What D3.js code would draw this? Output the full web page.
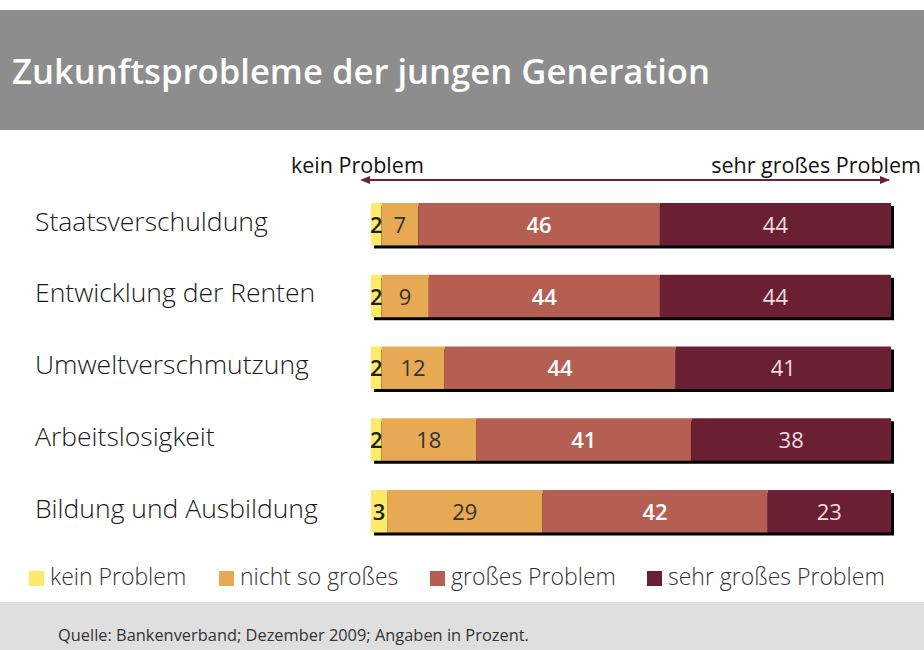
<!DOCTYPE html>
<html>
<head>
<meta charset="utf-8">
<script src="https://cdn.jsdelivr.net/npm/d3@7"></script>
<style>
  body { margin: 0; background: #fff; }
  svg { display: block; font-family: "Open Sans", sans-serif; }
</style>
</head>
<body>
<script>
// data
var categories = ["Staatsverschuldung", "Entwicklung der Renten", "Umweltverschmutzung", "Arbeitslosigkeit", "Bildung und Ausbildung"];
var keys = ["kein Problem", "nicht so großes", "großes Problem", "sehr großes Problem"];
var keinProblem = [2, 2, 2, 2, 3];
var nichtSoGross = [7, 9, 12, 18, 29];
var grossesProblem = [46, 44, 44, 41, 42];
var sehrGross = [44, 44, 41, 38, 23];
var colors = ["#fde96a", "#e7a953", "#b55f52", "#6a2032"];
var labelColors = ["#222", "#333", "#fff", "#eadde0"];
var labelWeights = [600, 500, 600, 400];

var series = [keinProblem, nichtSoGross, grossesProblem, sehrGross];
var data = categories.map(function(c, i) {
  var row = {category: c};
  keys.forEach(function(k, j) { row[k] = series[j][i]; });
  return row;
});

var width = 924, height = 650;

var svg = d3.select("body").append("svg")
    .attr("width", width)
    .attr("height", height);

// title band
svg.append("rect")
    .attr("x", 0).attr("y", 10)
    .attr("width", width).attr("height", 120)
    .attr("fill", "#8c8d8c");

svg.append("text")
    .attr("x", 12).attr("y", 84)
    .attr("fill", "#fff")
    .style("font-size", "34px")
    .style("font-weight", 600)
    .attr("textLength", 698)
    .attr("lengthAdjust", "spacingAndGlyphs")
    .text("Zukunftsprobleme der jungen Generation");

// scales
var x = d3.scaleLinear().domain([0, 1]).range([371, 891]);
var y = d3.scaleBand().domain(categories).range([203, 532.5])
    .paddingInner(0.408).paddingOuter(0);

var stack = d3.stack().keys(keys).offset(d3.stackOffsetExpand);
var stacked = stack(data);

// header arrow
var defs = svg.append("defs");
["start", "end"].forEach(function(id) {
  defs.append("marker")
      .attr("id", "arrow-" + id)
      .attr("viewBox", "0 0 10 10")
      .attr("refX", id == "end" ? 9 : 1).attr("refY", 5)
      .attr("markerWidth", 5).attr("markerHeight", 5)
      .attr("orient", id == "end" ? "auto" : "auto-start-reverse")
    .append("path")
      .attr("d", "M0,1L10,5L0,9z")
      .attr("fill", "#6b2232");
});

svg.append("line")
    .attr("x1", x(0) - 2).attr("x2", x(1) - 2)
    .attr("y1", 180).attr("y2", 180)
    .attr("stroke", "#6b2232")
    .attr("stroke-width", 2)
    .attr("marker-start", "url(#arrow-start)")
    .attr("marker-end", "url(#arrow-end)");

svg.append("text")
    .attr("x", 291).attr("y", 173)
    .attr("fill", "#111")
    .style("font-size", "21.5px")
    .text("kein Problem");

svg.append("text")
    .attr("x", 921).attr("y", 173)
    .attr("text-anchor", "end")
    .attr("fill", "#111")
    .style("font-size", "21.5px")
    .text("sehr großes Problem");

// shadows
svg.selectAll(".shadow")
    .data(categories)
  .enter().append("rect")
    .attr("class", "shadow")
    .attr("x", x(0) + 3)
    .attr("y", function(d) { return y(d) + 3; })
    .attr("width", x(1) - x(0))
    .attr("height", y.bandwidth())
    .attr("fill", "#000");

// bars
var layer = svg.selectAll(".layer")
    .data(stacked)
  .enter().append("g")
    .attr("class", "layer")
    .attr("fill", function(d, i) { return colors[i]; });

layer.selectAll("rect")
    .data(function(d) { return d; })
  .enter().append("rect")
    .attr("x", function(d) { return x(d[0]); })
    .attr("y", function(d) { return y(d.data.category); })
    .attr("width", function(d) { return x(d[1]) - x(d[0]); })
    .attr("height", y.bandwidth());

// value labels
stacked.forEach(function(s, i) {
  svg.append("g").selectAll("text")
      .data(s)
    .enter().append("text")
      .attr("x", function(d) { return (x(d[0]) + x(d[1])) / 2; })
      .attr("y", function(d) { return y(d.data.category) + y.bandwidth() / 2 + 1; })
      .attr("dy", "0.35em")
      .attr("text-anchor", "middle")
      .attr("fill", labelColors[i])
      .style("font-size", "22px")
      .style("font-weight", labelWeights[i])
      .text(function(d) { return d.data[s.key]; });
});

// category labels
svg.selectAll(".cat")
    .data(categories)
  .enter().append("text")
    .attr("class", "cat")
    .attr("x", 35)
    .attr("y", function(d) { return y(d) + y.bandwidth() / 2 - 3; })
    .attr("dy", "0.35em")
    .attr("fill", "#1a1a1a")
    .style("font-size", "26.5px")
    .style("font-weight", 300)
    .text(function(d) { return d; });

// legend
var legendX = [29, 219, 430, 647];
var legend = svg.selectAll(".legend")
    .data(keys)
  .enter().append("g")
    .attr("class", "legend")
    .attr("transform", function(d, i) { return "translate(" + legendX[i] + ",571)"; });

legend.append("rect")
    .attr("width", 15).attr("height", 15)
    .attr("fill", function(d, i) { return colors[i]; });

legend.append("text")
    .attr("x", 21).attr("y", 14)
    .attr("fill", "#333")
    .style("font-size", "23px")
    .style("font-weight", 300)
    .text(function(d) { return d; });

// footer
svg.append("rect")
    .attr("x", 0).attr("y", 602)
    .attr("width", width).attr("height", 48)
    .attr("fill", "#dfdfdf");

svg.append("text")
    .attr("x", 58).attr("y", 641)
    .attr("fill", "#333")
    .style("font-size", "16.4px")
    .text("Quelle: Bankenverband; Dezember 2009; Angaben in Prozent.");
</script>
</body>
</html>
